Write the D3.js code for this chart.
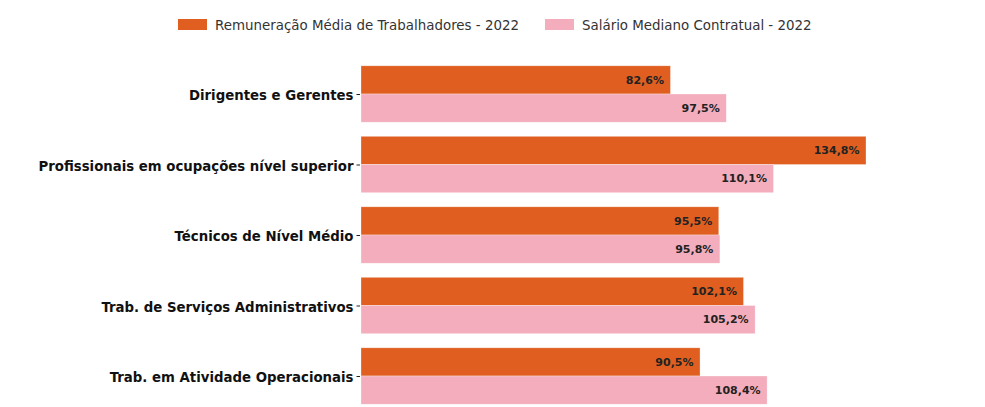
<!DOCTYPE html>
<html lang="pt">
<head>
<meta charset="utf-8">
<script src="https://cdn.jsdelivr.net/npm/d3@7"></script>
<style>
  body { margin: 0; background: #fff; }
  svg text { font-family: "DejaVu Sans", sans-serif; }
  .cat text { font-weight: bold; font-size: 13.3px; fill: #111; font-family: "DejaVu Sans", sans-serif; }
  .val { font-weight: bold; font-size: 11px; fill: #222; }
  .legend text { font-size: 13.4px; fill: #333; }
</style>
</head>
<body>
<script>
var w = 985, h = 407;

var categories = ["Dirigentes e Gerentes", "Profissionais em ocupações nível superior",
  "Técnicos de Nível Médio", "Trab. de Serviços Administrativos", "Trab. em Atividade Operacionais"];
var remuneracao = [82.6, 134.8, 95.5, 102.1, 90.5];
var salario = [97.5, 110.1, 95.8, 105.2, 108.4];
var seriesNames = ["Remuneração Média de Trabalhadores - 2022", "Salário Mediano Contratual - 2022"];
var colors = ["#e05f20", "#f3adbd"];

var x0 = 361;
var x = d3.scaleLinear().domain([0, 134.8]).range([x0, 866]);
var y = d3.scalePoint().domain(categories).range([94, 376]);
var step = y.step();
var bh = step * 0.4;

var svg = d3.select("body").append("svg").attr("width", w).attr("height", h);

// y axis, ticks only
var ax = svg.append("g").attr("class", "cat")
  .attr("transform", "translate(" + (x0 - 1) + ",0)")
  .call(d3.axisLeft(y).tickSize(3.5).tickPadding(3));
ax.select(".domain").remove();
ax.selectAll("line").attr("stroke", "#222");
ax.selectAll("text").attr("dy", "0.42em");

var series = [remuneracao, salario];
series.forEach(function (vals, s) {
  var g = svg.append("g");
  g.selectAll("rect").data(vals).enter().append("rect")
    .attr("x", x0)
    .attr("y", function (d, i) { return y(categories[i]) - bh + s * bh; })
    .attr("width", function (d) { return x(d) - x0; })
    .attr("height", bh)
    .attr("fill", colors[s])
    .attr("stroke", "#fff").attr("stroke-width", 0.6).attr("stroke-opacity", 0.5);
  g.selectAll("text").data(vals).enter().append("text")
    .attr("class", "val")
    .attr("x", function (d) { return x(d) - 6.5; })
    .attr("y", function (d, i) { return y(categories[i]) - bh / 2 + s * bh; })
    .attr("dy", "0.35em")
    .attr("text-anchor", "end")
    .text(function (d) { return d.toFixed(1).replace(".", ",") + "%"; });
});

// legend
var legX = [178, 545];
var leg = svg.append("g").attr("class", "legend");
seriesNames.forEach(function (n, i) {
  leg.append("rect").attr("x", legX[i]).attr("y", 19).attr("width", 29).attr("height", 11).attr("fill", colors[i]);
  leg.append("text").attr("x", legX[i] + 37).attr("y", 25).attr("dy", "0.35em").text(n);
});
</script>
</body>
</html>
